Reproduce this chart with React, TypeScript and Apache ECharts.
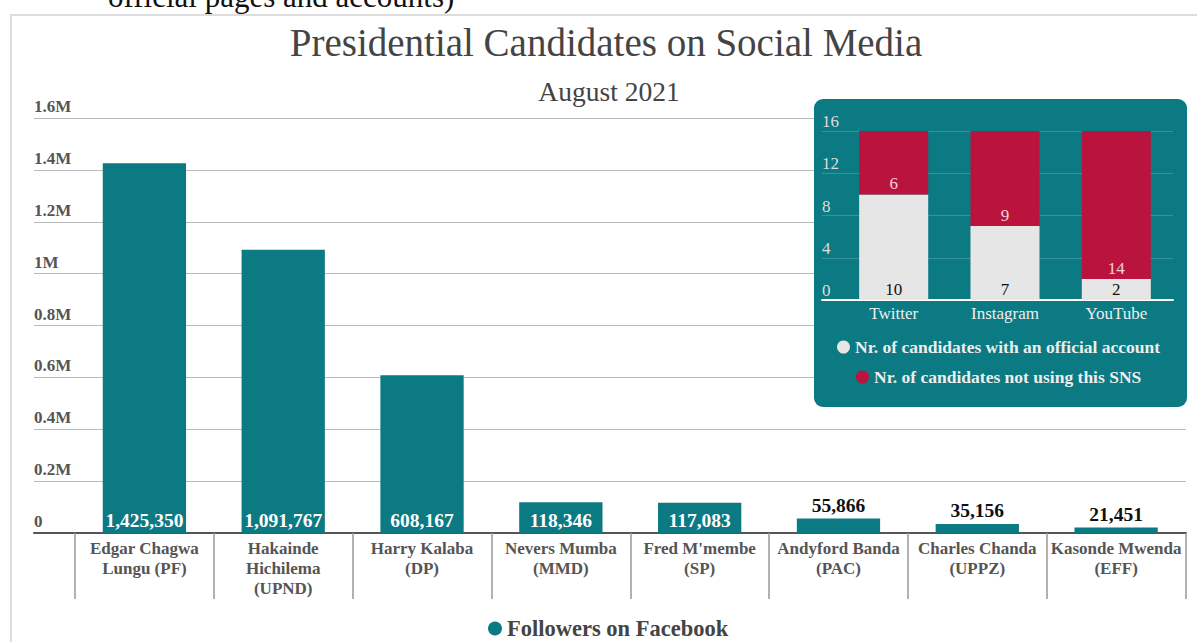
import React, { useEffect, useRef } from "react";
import * as echarts from "echarts";

const FONT = '"Liberation Serif", "Times New Roman", serif';
const TEAL = "#0b7a83";
const CRIMSON = "#ba143e";
const LIGHT = "#e6e6e6";

const candidates = [
  "Edgar Chagwa\nLungu (PF)",
  "Hakainde\nHichilema\n(UPND)",
  "Harry Kalaba\n(DP)",
  "Nevers Mumba\n(MMD)",
  "Fred M'membe\n(SP)",
  "Andyford Banda\n(PAC)",
  "Charles Chanda\n(UPPZ)",
  "Kasonde Mwenda\n(EFF)",
];
const facebookFollowers = [1425350, 1091767, 608167, 118346, 117083, 55866, 35156, 21451];
const yTickLabels = ["0", "0.2M", "0.4M", "0.6M", "0.8M", "1M", "1.2M", "1.4M", "1.6M"];

const platforms = ["Twitter", "Instagram", "YouTube"];
const withAccount = [10, 7, 2];
const notUsing = [6, 9, 14];
const insetTickLabels = ["0", "4", "8", "12", "16"];

const MAIN_NAME = "Followers on Facebook";
const NAME_A = "Nr. of candidates with an official account";
const NAME_B = "Nr. of candidates not using this SNS";

export default function App() {
  const ref = useRef<HTMLDivElement>(null);
  useEffect(() => {
    if (!ref.current) return;
    const chart = echarts.init(ref.current, undefined, { renderer: "svg" });
    const mainData = facebookFollowers.map((v) => ({
      value: v,
      label:
        v >= 100000
          ? { position: "insideBottom", color: "#ffffff" }
          : { position: "top", color: "#111111" },
    }));
    const option: any = {
      animation: false,
      backgroundColor: "#ffffff",
      textStyle: { fontFamily: FONT },
      graphic: [
        {
          type: "rect",
          z: -1,
          shape: { x: 11, y: 15, width: 1300, height: 700 },
          style: { fill: "none", stroke: "#dddddd", lineWidth: 2 },
        },
        {
          type: "text",
          z: 1,
          x: 108,
          y: 12,
          style: {
            text: "official pages and accounts)",
            fontFamily: FONT,
            fontSize: 31,
            fill: "#111111",
            align: "left",
            verticalAlign: "bottom",
          },
        },
        {
          type: "text",
          z: 1,
          x: 606,
          y: 42,
          style: {
            text: "Presidential Candidates on Social Media",
            fontFamily: FONT,
            fontSize: 39,
            fill: "#444444",
            align: "center",
            verticalAlign: "middle",
          },
        },
        {
          type: "text",
          z: 1,
          x: 609,
          y: 91,
          style: {
            text: "August 2021",
            fontFamily: FONT,
            fontSize: 27.5,
            fill: "#444444",
            align: "center",
            verticalAlign: "middle",
          },
        },
        {
          type: "rect",
          z: 5,
          shape: { x: 814, y: 99, width: 373, height: 308, r: 9 },
          style: { fill: TEAL },
        },
      ],
      legend: [
        {
          data: [MAIN_NAME],
          selectedMode: false,
          left: 483,
          top: 612,
          icon: "circle",
          itemWidth: 14,
          itemHeight: 14,
          textStyle: { fontFamily: FONT, fontWeight: "bold", fontSize: 22.5, color: "#444444" },
        },
        {
          data: [NAME_A],
          selectedMode: false,
          z: 12,
          left: 832,
          top: 333,
          icon: "circle",
          itemWidth: 13,
          itemHeight: 13,
          textStyle: { fontFamily: FONT, fontWeight: "bold", fontSize: 17.5, color: "#eeeeee" },
        },
        {
          data: [NAME_B],
          selectedMode: false,
          z: 12,
          left: 851,
          top: 363,
          icon: "circle",
          itemWidth: 13,
          itemHeight: 13,
          textStyle: { fontFamily: FONT, fontWeight: "bold", fontSize: 17.5, color: "#eeeeee" },
        },
      ],
      grid: [
        { left: 34, right: 11, top: 118, bottom: 109 },
        { left: 75, right: 11.5, top: 118, bottom: 109 },
        { left: 822, right: 24, top: 131, bottom: 342 },
        { left: 838, right: 25, top: 131, bottom: 342 },
      ],
      xAxis: [
        {
          gridIndex: 0,
          type: "value",
          min: 0,
          max: 1,
          axisLine: { show: true, lineStyle: { color: "#555555", width: 2 } },
          axisTick: { show: false },
          axisLabel: { show: false },
          splitLine: { show: false },
        },
        {
          gridIndex: 1,
          type: "category",
          data: candidates,
          axisLine: { show: false },
          axisTick: { show: true, length: 66, lineStyle: { color: "#999999", width: 1.5 } },
          axisLabel: {
            interval: 0,
            margin: 5,
            color: "#555555",
            fontFamily: FONT,
            fontWeight: "bold",
            fontSize: 17,
            lineHeight: 20,
          },
        },
        {
          gridIndex: 2,
          type: "value",
          min: 0,
          max: 1,
          z: 10,
          axisLine: { show: true, lineStyle: { color: "#ffffff", width: 2 } },
          axisTick: { show: false },
          axisLabel: { show: false },
          splitLine: { show: false },
        },
        {
          gridIndex: 3,
          type: "category",
          data: platforms,
          z: 10,
          axisLine: { show: false },
          axisTick: { show: false },
          axisLabel: { color: "#eeeeee", fontFamily: FONT, fontSize: 17, margin: 5 },
        },
      ],
      yAxis: [
        {
          gridIndex: 0,
          type: "value",
          min: 0,
          max: 1600000,
          interval: 200000,
          axisLine: { show: false },
          axisTick: { show: false },
          axisLabel: {
            inside: true,
            margin: 0,
            verticalAlign: "bottom",
            padding: [0, 0, 3, 0],
            formatter: (v: number, i: number) => yTickLabels[i],
            color: "#555555",
            fontFamily: FONT,
            fontWeight: "bold",
            fontSize: 17,
          },
          splitLine: { lineStyle: { color: "#bbbbbb", width: 1 } },
        },
        { gridIndex: 1, type: "value", min: 0, max: 1600000, show: false },
        {
          gridIndex: 2,
          type: "value",
          min: 0,
          max: 16,
          interval: 4,
          z: 10,
          axisLine: { show: false },
          axisTick: { show: false },
          axisLabel: {
            inside: true,
            margin: 0,
            verticalAlign: "bottom",
            padding: [0, 0, 1, 0],
            formatter: (v: number, i: number) => insetTickLabels[i],
            color: "#dddddd",
            fontFamily: FONT,
            fontSize: 17,
          },
          splitLine: { lineStyle: { color: "rgba(255,255,255,0.18)", width: 1 } },
        },
        { gridIndex: 3, type: "value", min: 0, max: 16, show: false },
      ],
      series: [
        {
          type: "bar",
          name: MAIN_NAME,
          xAxisIndex: 1,
          yAxisIndex: 1,
          data: mainData,
          barWidth: "60%",
          itemStyle: { color: TEAL },
          label: {
            show: true,
            distance: 3,
            formatter: (p: any) => Number(p.value).toLocaleString("en-US"),
            fontFamily: FONT,
            fontWeight: "bold",
            fontSize: 19.5,
          },
        },
        {
          type: "bar",
          name: NAME_A,
          xAxisIndex: 3,
          yAxisIndex: 3,
          stack: "sns",
          z: 11,
          data: withAccount,
          barWidth: "62%",
          itemStyle: { color: LIGHT },
          label: {
            show: true,
            position: "insideBottom",
            distance: 2,
            color: "#111111",
            fontFamily: FONT,
            fontSize: 17,
          },
        },
        {
          type: "bar",
          name: NAME_B,
          xAxisIndex: 3,
          yAxisIndex: 3,
          stack: "sns",
          z: 11,
          data: notUsing,
          barWidth: "62%",
          itemStyle: { color: CRIMSON },
          label: {
            show: true,
            position: "insideBottom",
            distance: 2,
            color: "#f2d4da",
            fontFamily: FONT,
            fontSize: 17,
          },
        },
      ],
    };
    chart.setOption(option);
    return () => chart.dispose();
  }, []);
  return (
    <div
      ref={ref}
      style={{ position: "absolute", left: 0, top: 0, width: 1197, height: 642 }}
    />
  );
}
